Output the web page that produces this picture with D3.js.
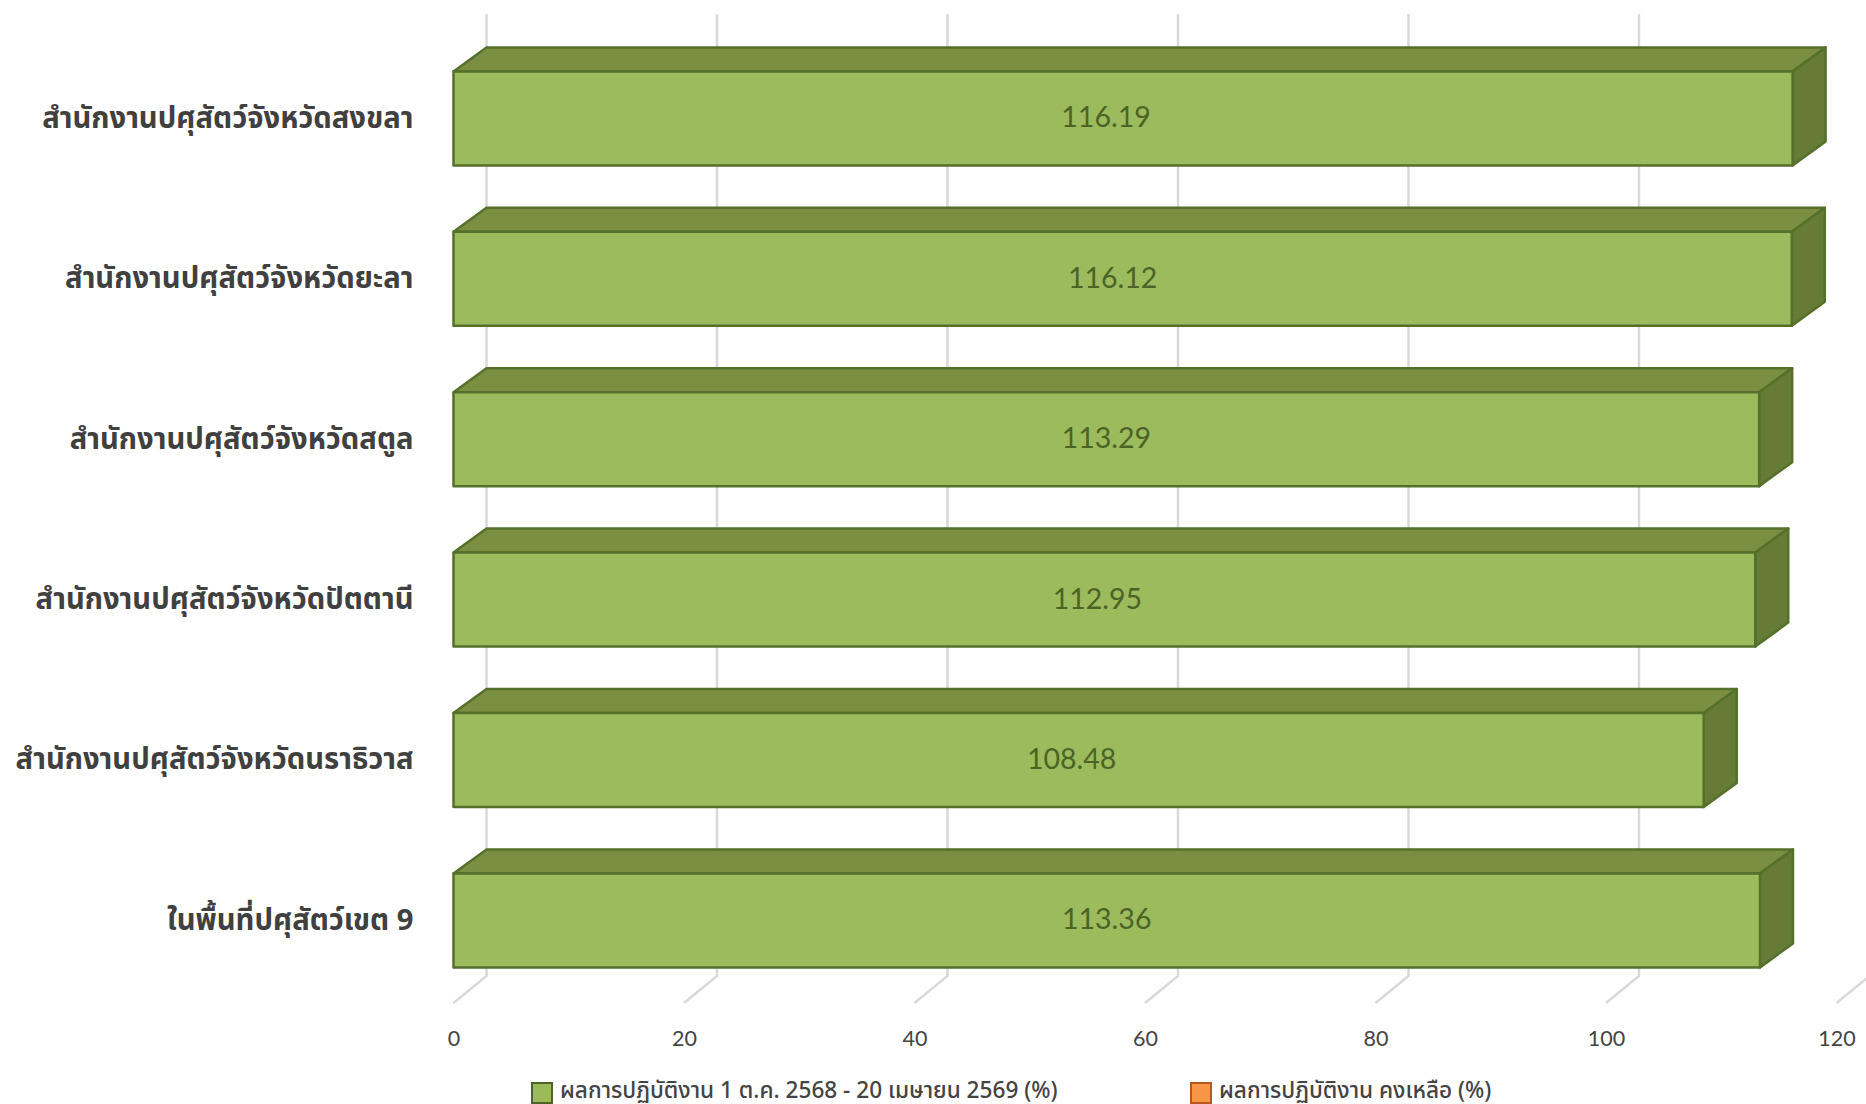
<!DOCTYPE html>
<html>
<head>
<meta charset="utf-8">
<script src="https://cdnjs.cloudflare.com/ajax/libs/d3/7.8.5/d3.min.js"></script>
<style>
  html, body { margin: 0; padding: 0; background: #fff; }
  svg { display: block; }
  .cat text { font-family: "Noto Sans", "Noto Sans Thai", sans-serif; font-weight: 700; font-size: 29.2px; fill: #404040; }
  .xaxis text { font-family: Lato, sans-serif; font-size: 21.5px; fill: #444; }
  .val { font-family: Lato, sans-serif; font-size: 28.5px; font-weight: 400; fill: #4b6426; text-anchor: middle; }
  .leg { font-family: "Noto Sans", "Noto Sans Thai", sans-serif; font-size: 22.6px; fill: #444; font-weight: 500; }
</style>
</head>
<body>
<svg id="chart" width="1866" height="1104"></svg>
<script>
const categories = [
  "สำนักงานปศุสัตว์จังหวัดสงขลา",
  "สำนักงานปศุสัตว์จังหวัดยะลา",
  "สำนักงานปศุสัตว์จังหวัดสตูล",
  "สำนักงานปศุสัตว์จังหวัดปัตตานี",
  "สำนักงานปศุสัตว์จังหวัดนราธิวาส",
  "ในพื้นที่ปศุสัตว์เขต 9"
];
const performance = [116.19, 116.12, 113.29, 112.95, 108.48, 113.36];
const xTicks = [0, 20, 40, 60, 80, 100, 120];
const legendLabels = [
  "ผลการปฏิบัติงาน 1 ต.ค. 2568 - 20 เมษายน 2569 (%)",
  "ผลการปฏิบัติงาน คงเหลือ (%)"
];
const legendColors = ["#9bbb59", "#f79646"];
const legendEdges = ["#4f6228", "#b35a1c"];

const depthX = 33, depthY = 24;

const x = d3.scaleLinear().domain([0, 120]).range([453.5, 1836.5]);
const y = d3.scaleBand().domain(categories).range([38.2, 1000.6]).paddingInner(0.414).paddingOuter(0.207);

const rows = categories.map((c, i) => ({ name: c, value: performance[i] }));
const svg = d3.select("#chart");

// back wall gridlines plus the slanted part on the floor
const grid = svg.append("g").attr("fill", "none").attr("stroke", "#d9d9d9").attr("stroke-width", 2.5);
grid.selectAll("path")
  .data(xTicks)
  .enter()
  .append("path")
  .attr("d", d => `M${x(d) + depthX},14V976L${x(d)},1003`);

// bars: top, side, front
const bars = svg.append("g").attr("stroke", "#55702a").attr("stroke-width", 2.5).attr("stroke-linejoin", "round");
const bar = bars.selectAll("g").data(rows).enter().append("g");

bar.append("path")
  .attr("fill", "#7a8f42")
  .attr("d", d => `M${x(0)},${y(d.name)}l${depthX},${-depthY}H${x(d.value) + depthX}l${-depthX},${depthY}Z`);
bar.append("path")
  .attr("fill", "#657b36")
  .attr("d", d => `M${x(d.value)},${y(d.name)}l${depthX},${-depthY}v${y.bandwidth()}l${-depthX},${depthY}Z`);
bar.append("rect")
  .attr("fill", "#9cbb5c")
  .attr("x", x(0))
  .attr("y", d => y(d.name))
  .attr("width", d => x(d.value) - x(0))
  .attr("height", y.bandwidth());

// labels do not sit exactly in the middle in the original
function labelShift(name) {
  if (name.endsWith("สงขลา")) return -17;
  if (name.endsWith("ยะลา")) return -10;
  if (name.endsWith("ปัตตานี") || name.endsWith("นราธิวาส")) return -7;
  return 0;
}

bar.append("text")
  .attr("class", "val")
  .attr("stroke", "none")
  .attr("x", d => (x(0) + x(d.value)) / 2 + labelShift(d.name))
  .attr("y", d => y(d.name) + y.bandwidth() / 2 - 1)
  .attr("dy", "0.35em")
  .text(d => d.value.toFixed(2));

// axes
svg.append("g")
  .attr("class", "cat")
  .attr("transform", "translate(453.5,0)")
  .call(d3.axisLeft(y).tickSize(0).tickPadding(40))
  .call(g => g.select(".domain").remove());

svg.append("g")
  .attr("class", "xaxis")
  .attr("transform", "translate(0,1031)")
  .call(d3.axisBottom(x).tickValues(xTicks).tickSize(0).tickPadding(0).tickFormat(d3.format("d")))
  .call(g => g.select(".domain").remove());

// legend
const legendX = d3.scaleOrdinal().domain(legendLabels).range([532, 1191]);
const leg = svg.append("g").selectAll("g").data(legendLabels).enter().append("g")
  .attr("transform", d => `translate(${legendX(d)},1083)`);
leg.append("rect")
  .attr("width", 20).attr("height", 20)
  .attr("fill", (d, i) => legendColors[i])
  .attr("stroke", (d, i) => legendEdges[i])
  .attr("stroke-width", 2);
leg.append("text")
  .attr("class", "leg")
  .attr("x", 28)
  .attr("y", 7)
  .attr("dy", "0.35em")
  .text(d => d);
</script>
</body>
</html>
